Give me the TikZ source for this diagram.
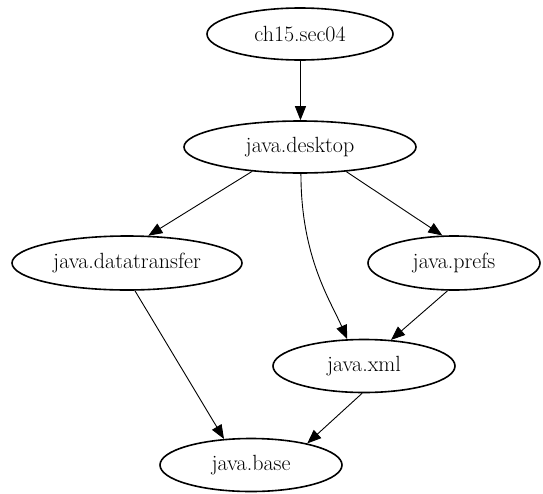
\documentclass[tikz,border=0pt]{standalone}
\usepackage{fontspec}
\usetikzlibrary{arrows.meta,shapes.geometric}
\tikzset{
  mod/.style={ellipse,draw,line width=1.6pt,inner sep=0pt,font=\fontsize{22}{26}\selectfont},
  dep/.style={draw,line width=0.9pt,-{Triangle[length=14pt,width=11pt]}}
}
\begin{document}
\begin{tikzpicture}[x=1pt,y=-1pt]
\useasboundingbox (0,0) rectangle (543,493);
\node[mod,minimum width=186pt,minimum height=52pt] (ch) at (300,34) {ch15.sec04};
\node[mod,minimum width=232pt,minimum height=52pt] (desk) at (300,147) {java.desktop};
\node[mod,minimum width=230pt,minimum height=54pt] (dt) at (127,263) {java.datatransfer};
\node[mod,minimum width=172pt,minimum height=54pt] (prefs) at (454,263) {java.prefs};
\node[mod,minimum width=182pt,minimum height=53pt] (xml) at (364,366) {java.xml};
\node[mod,minimum width=182pt,minimum height=53pt] (base) at (251,465) {java.base};
\draw[dep] (ch.-89) -- (desk.89);
\draw[dep] (desk.-153) -- (dt.52);
\draw[dep] (desk.-28) -- (prefs.113);
\draw[dep] (desk.-88) .. controls +(0,83) and +(-17,-39) .. (xml.122);
\draw[dep] (prefs.-103) -- (xml.44);
\draw[dep] (dt.-74) -- (base.136);
\draw[dep] (xml.-94) -- (base.21);
\end{tikzpicture}
\end{document}
